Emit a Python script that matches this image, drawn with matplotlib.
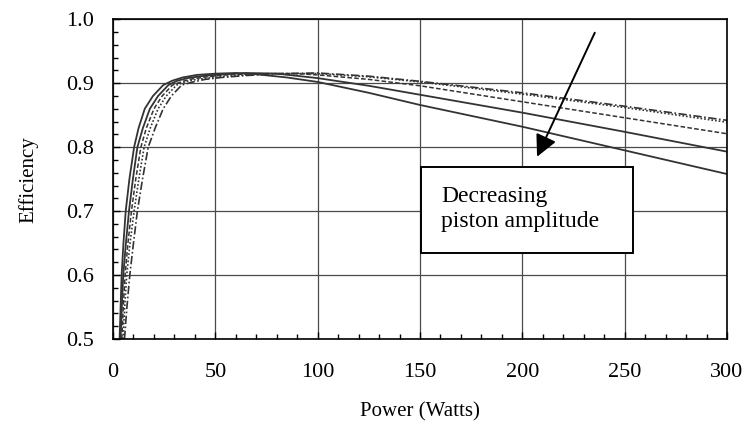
import matplotlib
matplotlib.use("Agg")
import matplotlib.pyplot as plt
from matplotlib.ticker import MultipleLocator
from matplotlib.patches import Rectangle

plt.rcParams['font.family'] = ['Liberation Serif', 'DejaVu Serif']

# Curve A: solid (fastest rise, lowest at high power)
power_a = [3.2, 3.7, 4.2, 5.1, 6.2, 8.0, 10.3, 12.5, 15.5, 19.5, 24.5, 29.0, 34.0, 41.0, 50.0, 60.0,
           70.0, 85.0, 100.0, 125.0, 150.0, 200.0, 250.0, 300.0]
eff_a = [0.5, 0.55, 0.6, 0.65, 0.7, 0.75, 0.8, 0.83, 0.86, 0.88, 0.897, 0.904, 0.909, 0.913, 0.915, 0.916,
         0.914, 0.909, 0.902, 0.885, 0.866, 0.832, 0.795, 0.758]
# Curve B: solid
power_b = [3.7, 4.3, 5.0, 6.3, 7.8, 9.7, 11.9, 14.6, 18.0, 22.0, 27.0, 31.5, 36.5, 43.0, 50.0, 65.0,
           80.0, 100.0, 125.0, 150.0, 200.0, 250.0, 300.0]
eff_b = [0.5, 0.55, 0.6, 0.65, 0.7, 0.75, 0.8, 0.83, 0.86, 0.88, 0.897, 0.904, 0.908, 0.911, 0.913, 0.916,
         0.915, 0.908, 0.896, 0.882, 0.854, 0.824, 0.793]
# Curve C: dashed
power_c = [4.3, 5.0, 5.9, 7.3, 9.0, 11.1, 13.6, 16.3, 20.0, 24.0, 29.0, 34.0, 39.0, 46.0, 55.0, 70.0,
           90.0, 100.0, 125.0, 150.0, 200.0, 250.0, 300.0]
eff_c = [0.5, 0.55, 0.6, 0.65, 0.7, 0.75, 0.8, 0.83, 0.86, 0.88, 0.897, 0.903, 0.907, 0.910, 0.913, 0.915,
         0.915, 0.913, 0.906, 0.896, 0.871, 0.846, 0.821]
# Curve D: dotted
power_d = [4.9, 5.7, 6.7, 8.3, 10.3, 12.6, 15.2, 18.2, 22.0, 26.0, 31.0, 36.0, 41.0, 49.0, 60.0, 75.0,
           100.0, 125.0, 150.0, 200.0, 250.0, 300.0]
eff_d = [0.5, 0.55, 0.6, 0.65, 0.7, 0.75, 0.8, 0.83, 0.86, 0.88, 0.897, 0.903, 0.906, 0.909, 0.912, 0.915,
         0.915, 0.910, 0.902, 0.883, 0.862, 0.839]
# Curve E: dash-dot (slowest rise, highest at high power)
power_e = [5.6, 6.8, 8.2, 10.0, 11.9, 14.4, 17.2, 20.6, 24.5, 28.5, 33.5, 39.0, 45.0, 53.0, 65.0, 80.0,
           100.0, 125.0, 150.0, 200.0, 250.0, 300.0]
eff_e = [0.5, 0.55, 0.6, 0.65, 0.7, 0.75, 0.8, 0.83, 0.86, 0.88, 0.897, 0.902, 0.906, 0.909, 0.912, 0.915,
         0.916, 0.911, 0.903, 0.885, 0.864, 0.842]

x_ticks = [0, 50, 100, 150, 200, 250, 300]
y_ticks = [0.5, 0.6, 0.7, 0.8, 0.9, 1.0]
x_label = "Power (Watts)"
y_label = "Efficiency"
note_text = "Decreasing\npiston amplitude"

fig = plt.figure(figsize=(7.47, 4.23), dpi=100)
ax = fig.add_axes([0.1513, 0.1986, 0.8219, 0.7558])

lc = '#333333'
lw = 1.3
ax.plot(power_a, eff_a, color=lc, lw=lw, ls='-')
ax.plot(power_b, eff_b, color=lc, lw=lw, ls='-')
ax.plot(power_c, eff_c, color=lc, lw=1.1, ls=(0, (3, 1.5)))
ax.plot(power_d, eff_d, color=lc, lw=1.2, ls=(0, (1, 1.2)))
ax.plot(power_e, eff_e, color=lc, lw=1.2, ls=(0, (5, 1.5, 1, 1.5)))

ax.set_xlim(0, 300)
ax.set_ylim(0.5, 1.0)
ax.set_xticks(x_ticks)
ax.set_yticks(y_ticks)
ax.set_xticklabels([str(v) for v in x_ticks])
ax.set_yticklabels([f"{v:.1f}" for v in y_ticks])
ax.xaxis.set_minor_locator(MultipleLocator(10))
ax.yaxis.set_minor_locator(MultipleLocator(0.02))
ax.tick_params(which='major', direction='in', length=5, width=1, labelsize=16, colors='black')
ax.tick_params(axis='x', which='major', pad=17)
ax.tick_params(axis='y', which='major', pad=14)
ax.tick_params(which='minor', direction='in', length=3.5, width=1, colors='black')
ax.tick_params(top=False, right=False, which='both')

ax.grid(True, which='major', color='#4a4a4a', lw=0.9)
ax.set_axisbelow(True)
for s in ax.spines.values():
    s.set_linewidth(1.2)
    s.set_color('black')

ax.set_xlabel(x_label, fontsize=15, labelpad=15)
ax.set_ylabel(y_label, fontsize=15, labelpad=20)

# annotation box
box = Rectangle((150.6, 0.635), 103.6, 0.1345, facecolor='white', edgecolor='black', lw=1.4, zorder=5)
ax.add_patch(box)
ax.text(160.5, 0.740, note_text, fontsize=17, va='top', ha='left', linespacing=1.25, zorder=6)

ax.annotate('', xy=(207.2, 0.785), xytext=(235.4, 0.979),
            arrowprops=dict(arrowstyle='-|>', mutation_scale=33, lw=1.4, color='black',
                            shrinkA=0, shrinkB=0), zorder=6)

fig.savefig('out.png', dpi=100)
